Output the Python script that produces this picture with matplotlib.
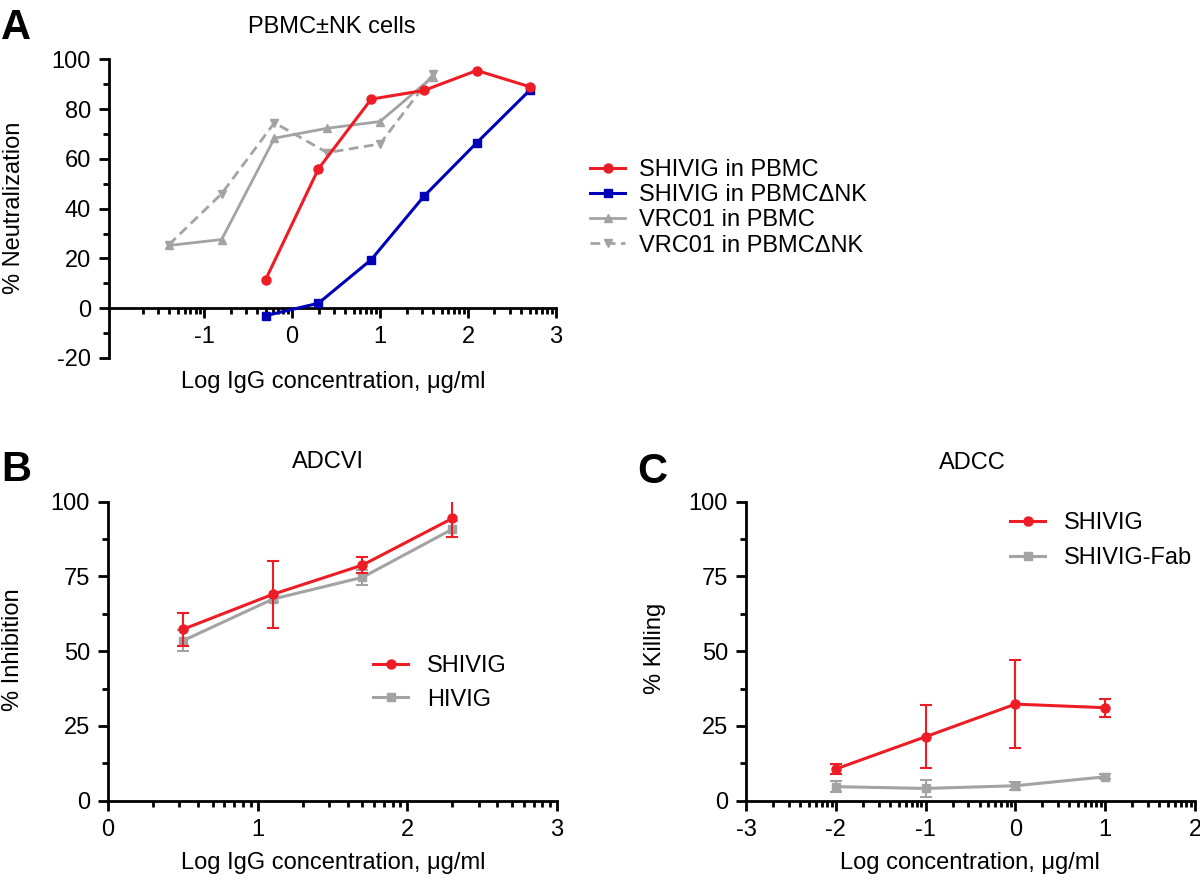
import numpy as np
import matplotlib
matplotlib.use("Agg")
import matplotlib.pyplot as plt
from matplotlib.ticker import FixedLocator

plt.rcParams['font.family'] = ['Liberation Sans', 'DejaVu Sans']
plt.rcParams['font.size'] = 17

RED = '#ee1c25'
BLUE = '#0000b8'
GRAY = '#a3a3a3'

# ---------------- Panel A data ----------------
a_x_shivig = [-0.3, 0.3, 0.9, 1.5, 2.1, 2.7]
a_shivig_pbmc = [11.5, 56, 84, 87.5, 95.5, 89]
a_shivig_pbmc_dnk = [-3, 2, 19.5, 45, 66.5, 87.5]
a_x_vrc01 = [-1.4, -0.8, -0.2, 0.4, 1.0, 1.6]
a_vrc01_pbmc = [25.2, 27.6, 68.3, 72.3, 75, 93]
a_vrc01_pbmc_dnk = [25.5, 46, 74.5, 62.5, 66, 94]
a_labels = ['SHIVIG in PBMC', 'SHIVIG in PBMC\u0394NK', 'VRC01 in PBMC', 'VRC01 in PBMC\u0394NK']

# ---------------- Panel B data ----------------
b_x = [0.5, 1.1, 1.7, 2.3]
b_shivig = [57.3, 69.0, 78.8, 94.4]
b_shivig_err = [5.5, 11.2, 2.8, 6.2]
b_hivig = [53.5, 67.4, 74.7, 90.8]
b_hivig_err = [3.5, 1.0, 2.5, 2.7]
b_labels = ['SHIVIG', 'HIVIG']

# ---------------- Panel C data ----------------
c_x = [-2, -1, 0, 1]
c_shivig = [10.6, 21.4, 32.3, 31.1]
c_shivig_err = [1.6, 10.6, 14.7, 3.0]
c_fab = [4.7, 4.1, 5.0, 8.0]
c_fab_err = [1.8, 2.7, 1.4, 0.8]
c_labels = ['SHIVIG', 'SHIVIG-Fab']

W, H = 1200, 880
fig = plt.figure(figsize=(12, 8.8), dpi=100)

def fx(px):
    return px / W

def fy(py):
    return 1 - py / H

def style_axes(ax, xmaj, xminor_decades, ymaj, ymin):
    for s in ['top', 'right']:
        ax.spines[s].set_visible(False)
    for s in ['left', 'bottom']:
        ax.spines[s].set_linewidth(2.0)
    ax.xaxis.set_major_locator(FixedLocator(xmaj))
    minors = [d + np.log10(m) for d in xminor_decades for m in range(2, 10)]
    ax.xaxis.set_minor_locator(FixedLocator(minors))
    ax.yaxis.set_major_locator(FixedLocator(ymaj))
    ax.yaxis.set_minor_locator(FixedLocator(ymin))
    ax.tick_params(which='major', direction='out', length=7, width=2.0, pad=6, labelsize=17)
    ax.tick_params(which='minor', direction='out', length=4.5, width=2.0)
    ax.set_xticklabels([str(v) for v in xmaj])
    ax.set_yticklabels([str(v) for v in ymaj])

# ---------------- Panel A ----------------
axA = fig.add_axes([fx(109), fy(358), fx(556 - 109), (358 - 59.3) / H])
axA.set_xlim(-2.08, 3)
axA.set_ylim(-20, 100)
axA.spines['bottom'].set_position(('data', 0))
style_axes(axA, [-1, 0, 1, 2, 3], [-2, -1, 0, 1, 2], [-20, 0, 20, 40, 60, 80, 100],
           [-10, 10, 30, 50, 70, 90])
axA.plot(a_x_vrc01, a_vrc01_pbmc_dnk, color=GRAY, lw=2.0, ls=(0, (3.5, 2)), marker='v', ms=5.5,
         label=a_labels[3], zorder=2)
axA.plot(a_x_vrc01, a_vrc01_pbmc, color=GRAY, lw=2.0, marker='^', ms=5.5, label=a_labels[2], zorder=2)
axA.plot(a_x_shivig, a_shivig_pbmc_dnk, color=BLUE, lw=2.2, marker='s', ms=6, label=a_labels[1], zorder=3)
axA.plot(a_x_shivig, a_shivig_pbmc, color=RED, lw=2.2, marker='o', ms=6.5, label=a_labels[0], zorder=4)
h, l = axA.get_legend_handles_labels()
order = [3, 2, 1, 0]
axA.legend([h[i] for i in order], [l[i] for i in order], loc='upper left',
           bbox_to_anchor=(fx(578), fy(147)), bbox_transform=fig.transFigure,
           frameon=False, borderpad=0, handlelength=1.5, handletextpad=0.6,
           labelspacing=0.14, fontsize=17)
fig.text(fx(332), fy(27), 'PBMC\u00b1NK cells', ha='center', va='center', fontsize=17)
fig.text(fx(333), fy(382), 'Log IgG concentration, \u03bcg/ml', ha='center', va='center', fontsize=17)
fig.text(fx(14), fy(208), '% Neutralization', ha='center', va='center', rotation=90, fontsize=17)
fig.text(fx(1), fy(8), 'A', ha='left', va='top', fontsize=30, fontweight='bold')

# ---------------- Panel B ----------------
axB = fig.add_axes([fx(108), fy(800.7), fx(449), 299 / H])
axB.set_xlim(0, 3)
axB.set_ylim(0, 100)
style_axes(axB, [0, 1, 2, 3], [0, 1, 2], [0, 25, 50, 75, 100], [12.5, 37.5, 62.5, 87.5])
axB.errorbar(b_x, b_hivig, yerr=b_hivig_err, fmt='none', ecolor=GRAY, elinewidth=1.5, capsize=4,
             capthick=1.5, zorder=2)
axB.plot(b_x, b_hivig, color=GRAY, lw=2.2, marker='s', ms=6, label=b_labels[1], zorder=2)
axB.errorbar(b_x, b_shivig, yerr=b_shivig_err, fmt='none', ecolor=RED, elinewidth=1.5, capsize=4,
             capthick=1.5, zorder=3)
axB.plot(b_x, b_shivig, color=RED, lw=2.2, marker='o', ms=6.5, label=b_labels[0], zorder=3)
h, l = axB.get_legend_handles_labels()
axB.legend([h[1], h[0]], [l[1], l[0]], loc='upper left',
           bbox_to_anchor=(fx(361), fy(643)), bbox_transform=fig.transFigure,
           frameon=False, borderpad=0, handlelength=1.5, handletextpad=0.8,
           labelspacing=0.5, fontsize=17)
fig.text(fx(328), fy(462), 'ADCVI', ha='center', va='center', fontsize=17)
fig.text(fx(333), fy(863), 'Log IgG concentration, \u03bcg/ml', ha='center', va='center', fontsize=17)
fig.text(fx(13), fy(650), '% Inhibition', ha='center', va='center', rotation=90, fontsize=17)
fig.text(fx(1), fy(450), 'B', ha='left', va='top', fontsize=30, fontweight='bold')

# ---------------- Panel C ----------------
axC = fig.add_axes([fx(746), fy(800.7), fx(449), 299 / H])
axC.set_xlim(-3, 2)
axC.set_ylim(0, 100)
style_axes(axC, [-3, -2, -1, 0, 1, 2], [-3, -2, -1, 0, 1], [0, 25, 50, 75, 100],
           [12.5, 37.5, 62.5, 87.5])
axC.errorbar(c_x, c_fab, yerr=c_fab_err, fmt='none', ecolor=GRAY, elinewidth=1.5, capsize=4,
             capthick=1.5, zorder=2)
axC.plot(c_x, c_fab, color=GRAY, lw=2.2, marker='s', ms=6, label=c_labels[1], zorder=2)
axC.errorbar(c_x, c_shivig, yerr=c_shivig_err, fmt='none', ecolor=RED, elinewidth=1.5, capsize=4,
             capthick=1.5, zorder=3)
axC.plot(c_x, c_shivig, color=RED, lw=2.2, marker='o', ms=6.5, label=c_labels[0], zorder=3)
h, l = axC.get_legend_handles_labels()
axC.legend([h[1], h[0]], [l[1], l[0]], loc='upper left',
           bbox_to_anchor=(fx(998), fy(500)), bbox_transform=fig.transFigure,
           frameon=False, borderpad=0, handlelength=1.5, handletextpad=0.8,
           labelspacing=0.55, fontsize=17)
fig.text(fx(972), fy(463), 'ADCC', ha='center', va='center', fontsize=17)
fig.text(fx(970), fy(863), 'Log concentration, \u03bcg/ml', ha='center', va='center', fontsize=17)
fig.text(fx(655), fy(648), '% Killing', ha='center', va='center', rotation=90, fontsize=17)
fig.text(fx(637), fy(452), 'C', ha='left', va='top', fontsize=30, fontweight='bold')

fig.savefig('out.png', dpi=100)
